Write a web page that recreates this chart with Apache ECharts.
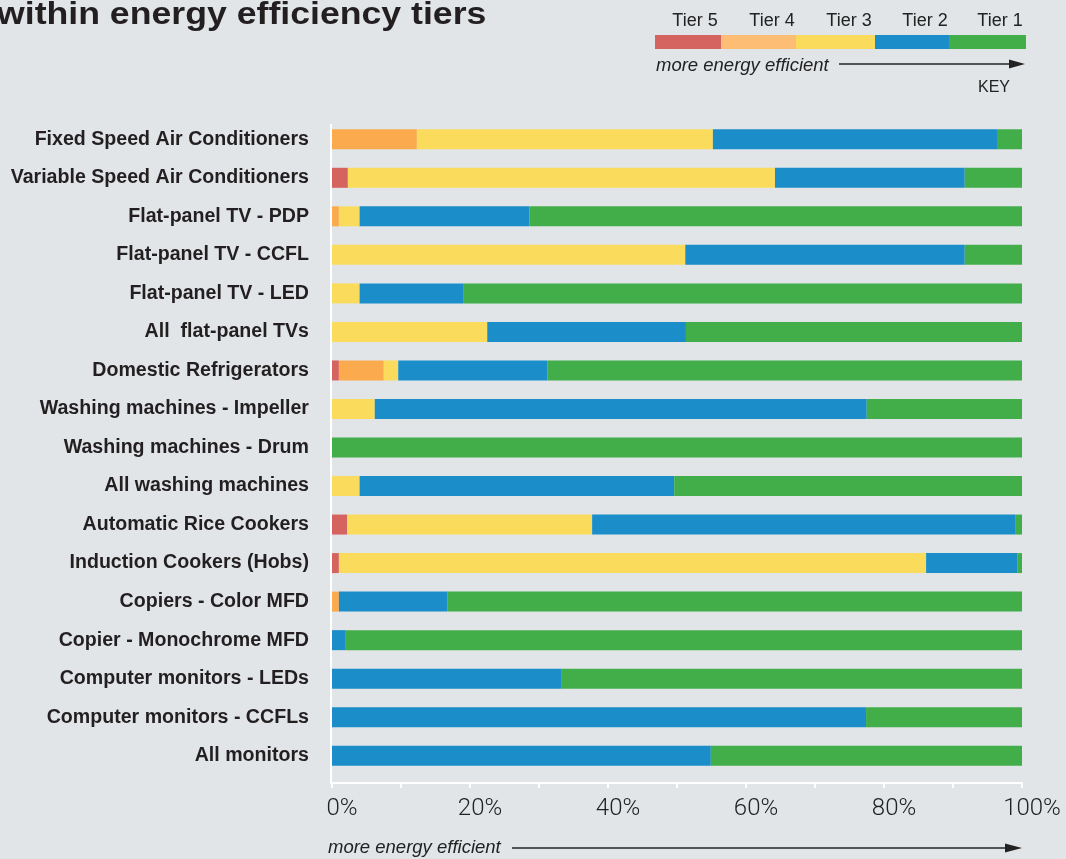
<!DOCTYPE html>
<html>
<head>
<meta charset="utf-8">
<title>Energy efficiency tiers</title>
<script src="https://cdn.jsdelivr.net/npm/echarts@6/dist/echarts.min.js"></script>
<style>
  html, body { margin: 0; padding: 0; background: #e1e5e8; }
  #chart { width: 1066px; height: 859px; }
</style>
</head>
<body>
<div id="chart"></div>
<script>
// Product categories, top to bottom
const categories = [
  'Fixed Speed Air Conditioners',
  'Variable Speed Air Conditioners',
  'Flat-panel TV - PDP',
  'Flat-panel TV - CCFL',
  'Flat-panel TV - LED',
  'All  flat-panel TVs',
  'Domestic Refrigerators',
  'Washing machines - Impeller',
  'Washing machines - Drum',
  'All washing machines',
  'Automatic Rice Cookers',
  'Induction Cookers (Hobs)',
  'Copiers - Color MFD',
  'Copier - Monochrome MFD',
  'Computer monitors - LEDs',
  'Computer monitors - CCFLs',
  'All monitors'
];

// Share of models (%) in each tier, least efficient (Tier 5) to most efficient (Tier 1)
const tier5 = [0, 2.3, 0, 0, 0, 0, 1.0, 0, 0, 0, 2.2, 1.0, 0, 0, 0, 0, 0];
const tier4 = [12.3, 0, 1.0, 0, 0, 0, 6.5, 0, 0, 0, 0, 0, 1.0, 0, 0, 0, 0];
const tier3 = [42.9, 61.9, 3.0, 51.2, 4.0, 22.5, 2.1, 6.2, 0, 4.0, 35.5, 85.1, 0, 0, 0, 0, 0];
const tier2 = [41.3, 27.5, 24.6, 40.5, 15.0, 28.8, 21.6, 71.3, 0, 45.6, 61.3, 13.2, 15.7, 2.0, 33.3, 77.4, 54.9];
const tier1 = [3.5, 8.3, 71.4, 8.3, 81.0, 48.7, 68.8, 22.5, 100, 50.4, 1.0, 0.7, 83.3, 98.0, 66.7, 22.6, 45.1];

const tierNames = ['Tier 5', 'Tier 4', 'Tier 3', 'Tier 2', 'Tier 1'];
const tierValues = [tier5, tier4, tier3, tier2, tier1];
const barColors = ['#d56360', '#fbab4e', '#fadb5c', '#1b8eca', '#41ae4a'];
const keyColors = ['#d56360', '#fdbd75', '#fadb5c', '#1b8eca', '#41ae4a'];

const xTicks = [0, 20, 40, 60, 80, 100];

const chart = echarts.init(document.getElementById('chart'), null, { renderer: 'canvas' });

// Key: one continuous strip split into the five tiers
const keyLeft = 655, keyTop = 35, keyH = 14;
const keyWidths = [66, 75, 79, 74, 77];
const keyLabelX = [695, 772, 849, 925, 1000];
const keyGraphics = [];
let kx = keyLeft;
tierNames.forEach((name, i) => {
  keyGraphics.push({
    type: 'rect', silent: true,
    shape: { x: kx, y: keyTop, width: keyWidths[i], height: keyH },
    style: { fill: keyColors[i] }
  });
  keyGraphics.push({
    type: 'text', silent: true,
    x: keyLabelX[i], y: 21,
    style: { text: name, fill: '#222', font: '18px "Liberation Sans", Arial, sans-serif', align: 'center', verticalAlign: 'middle' }
  });
  kx += keyWidths[i];
});

function arrow(x1, x2, y, head) {
  return [
    { type: 'line', silent: true, shape: { x1: x1, y1: y, x2: x2 - head + 2, y2: y }, style: { stroke: '#222', lineWidth: 1.6 } },
    { type: 'polygon', silent: true, shape: { points: [[x2 - head, y - 4.5], [x2, y], [x2 - head, y + 4.5]] }, style: { fill: '#222' } }
  ];
}

const graphics = [
  {
    type: 'text', silent: true, x: -3, y: 15, scaleX: 1.15,
    style: { text: 'within energy efficiency tiers', fill: '#231f20', font: '900 31px "Liberation Sans", Arial, sans-serif', verticalAlign: 'middle' }
  },
  ...keyGraphics,
  {
    type: 'text', silent: true, x: 656, y: 66,
    style: { text: 'more energy efficient', fill: '#222', font: 'italic 18.5px "Liberation Sans", Arial, sans-serif', verticalAlign: 'middle' }
  },
  ...arrow(839, 1025, 64, 16),
  {
    type: 'text', silent: true, x: 994, y: 88,
    style: { text: 'KEY', fill: '#222', font: '16px "Liberation Sans", Arial, sans-serif', align: 'center', verticalAlign: 'middle' }
  },
  // vertical axis rule running down to the percentage scale
  { type: 'line', silent: true, shape: { x1: 331, y1: 124, x2: 331, y2: 784 }, style: { stroke: '#ffffff', lineWidth: 2 } },
  {
    type: 'text', silent: true, x: 328, y: 848,
    style: { text: 'more energy efficient', fill: '#222', font: 'italic 18.5px "Liberation Sans", Arial, sans-serif', verticalAlign: 'middle' }
  },
  ...arrow(512, 1022, 848, 17)
];

chart.setOption({
  backgroundColor: '#e1e5e8',
  animation: false,
  grid: { left: 332, right: 44, top: 120, bottom: 84, containLabel: false },
  xAxis: {
    type: 'value', min: 0, max: 100, interval: 20,
    offset: 8,
    axisLine: { show: true, lineStyle: { color: '#ffffff', width: 2 } },
    axisTick: { show: true, length: 5, lineStyle: { color: '#ffffff', width: 2 } },
    minorTick: { show: true, splitNumber: 2, length: 5, lineStyle: { color: '#ffffff', width: 2 } },
    splitLine: { show: false },
    axisLabel: {
      margin: 14,
      padding: [0, 0, 0, 20],
      color: '#222',
      fontSize: 24,
      fontWeight: 300,
      fontFamily: 'Roboto, "Liberation Sans", sans-serif',
      formatter: v => xTicks.includes(v) ? v + '%' : ''
    }
  },
  yAxis: {
    type: 'category', data: categories, inverse: true,
    axisLine: { show: false },
    axisTick: { show: false },
    axisLabel: {
      margin: 23,
      color: '#231f20',
      fontSize: 19.6,
      fontWeight: 'bold',
      fontFamily: '"Liberation Sans", Arial, sans-serif'
    }
  },
  series: tierNames.map((name, i) => ({
    name: name,
    type: 'bar',
    stack: 'share',
    barWidth: 20,
    itemStyle: { color: barColors[i] },
    data: tierValues[i]
  })),
  graphic: graphics
});
</script>
</body>
</html>
